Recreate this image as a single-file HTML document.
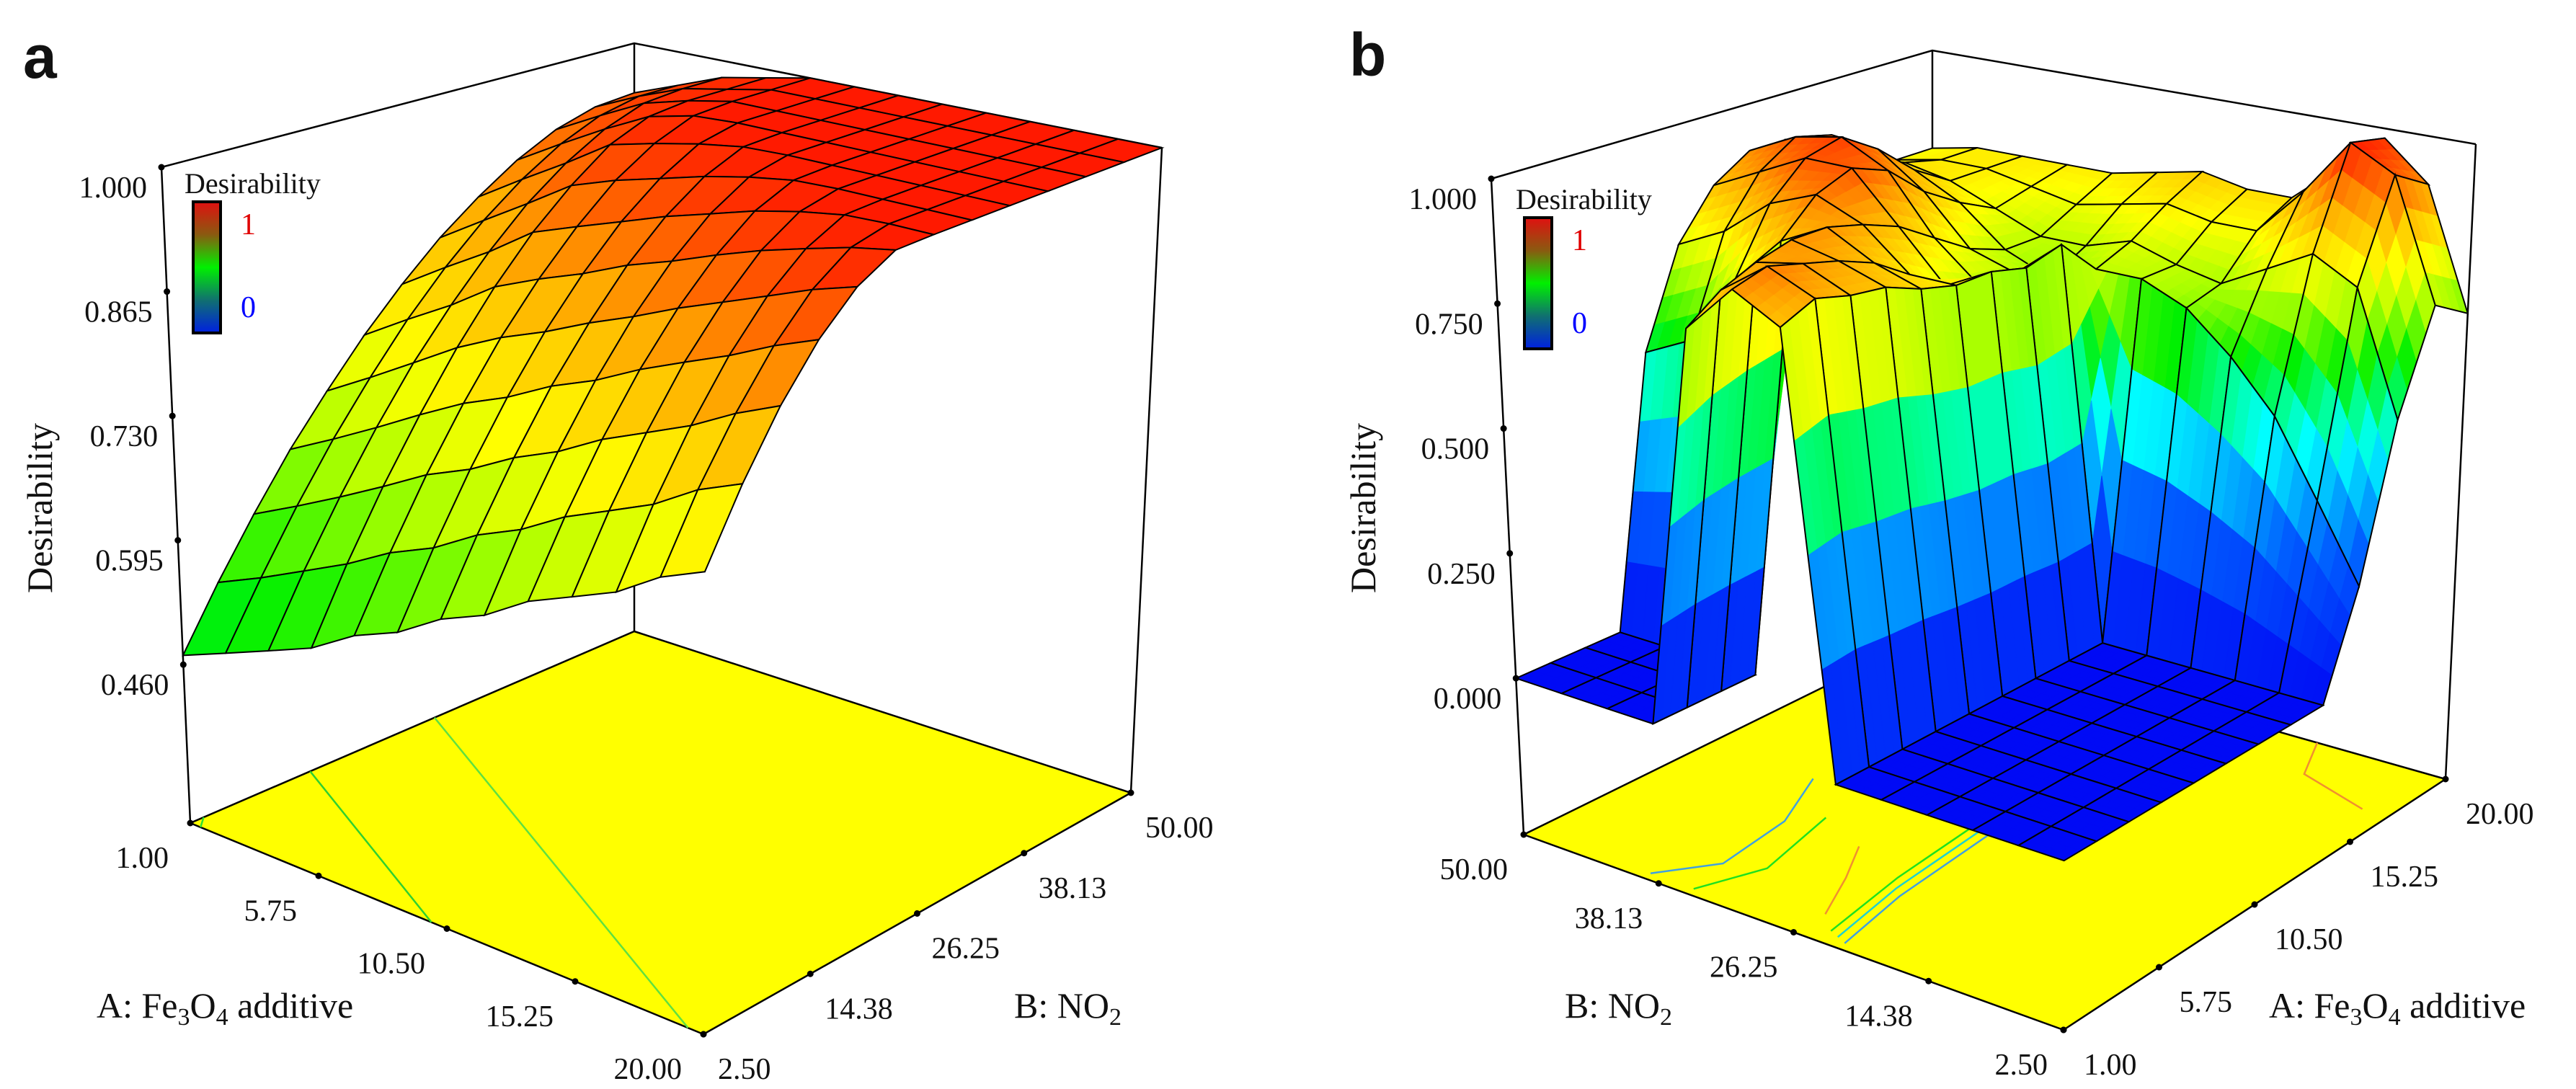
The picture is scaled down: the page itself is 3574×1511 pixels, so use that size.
<!DOCTYPE html>
<html><head><meta charset="utf-8"><style>
html,body{margin:0;padding:0;background:#fff;}
svg{display:block;}
text{font-family:"Liberation Serif",serif;fill:#111;}
</style></head><body>
<svg id="chart" width="3574" height="1511" viewBox="0 0 3574 1511" xmlns="http://www.w3.org/2000/svg">
<g id="panelA"></g>
<g id="panelB"></g>
<text x="32" y="108" font-size="84" style="font-family:'Liberation Sans',sans-serif;font-weight:bold">a</text>
<text x="1872" y="105" font-size="84" style="font-family:'Liberation Sans',sans-serif;font-weight:bold">b</text>
<text x="0" y="0" font-size="50" transform="translate(72,705) rotate(-90)" text-anchor="middle">Desirability</text>
<text x="0" y="0" font-size="50" transform="translate(1908,705) rotate(-90)" text-anchor="middle">Desirability</text>
<text x="134" y="1412" font-size="50">A: Fe<tspan font-size="34" dy="10">3</tspan><tspan dy="-10">O</tspan><tspan font-size="34" dy="10">4</tspan><tspan dy="-10"> additive</tspan></text>
<text x="1407" y="1412" font-size="50">B: NO<tspan font-size="34" dy="10">2</tspan></text>
<text x="2171" y="1412" font-size="50">B: NO<tspan font-size="34" dy="10">2</tspan></text>
<text x="3148" y="1412" font-size="50">A: Fe<tspan font-size="34" dy="10">3</tspan><tspan dy="-10">O</tspan><tspan font-size="34" dy="10">4</tspan><tspan dy="-10"> additive</tspan></text>
</svg>
<script>
// ---------- data ----------
const aTicksA = ["1.00","5.75","10.50","15.25","20.00"];
const bTicksB = ["2.50","14.38","26.25","38.13","50.00"];
const zTicksPanelA = [0.460,0.595,0.730,0.865,1.000];
const zTicksPanelB = [0.000,0.250,0.500,0.750,1.000];
// panel a desirability grid: rows A = 1..20 (13 levels), columns B = 2.5..50 (13 levels)
const surfA0 = [.47,.534,.594,.651,.702,.751,.795,.835,.869,.899,.922,.936,.94];
const surfA1 = [.49,.556,.619,.678,.732,.783,.828,.868,.902,.930,.950,.96,.96];
const surfA2 = [.51,.580,.645,.706,.763,.813,.859,.900,.933,.959,.976,.98,.98];
const surfA3 = [.53,.604,.672,.735,.794,.847,.894,.933,.966,.985,.99,.99,.99];
const surfA4 = [.56,.632,.700,.762,.819,.869,.913,.951,.979,.997,1,1,1];
const surfA5 = [.58,.653,.721,.783,.839,.888,.931,.965,.990,1,1,1,1];
const surfA6 = [.61,.682,.748,.809,.862,.910,.949,.979,.998,1,1,1,1];
const surfA7 = [.63,.703,.769,.829,.882,.927,.964,.990,1,1,1,1,1];
const surfA8 = [.66,.731,.796,.854,.904,.946,.979,.998,1,1,1,1,1];
const surfA9 = [.68,.752,.817,.875,.923,.963,.990,1,1,1,1,1,1];
const surfA10 = [.70,.773,.838,.895,.942,.977,.998,1,1,1,1,1,1];
const surfA11 = [.73,.802,.864,.918,.961,.990,1,1,1,1,1,1,1];
const surfA12 = [.75,.822,.885,.937,.976,.999,1,1,1,1,1,1,1];
// panel b desirability grid: rows A = 1..20, columns B = 2.5..50
const surfB0 = [0,0,0,0,0,0,.85,.90,.80,0,0,0,0];
const surfB1 = [0,0,0,0,0,0,.88,.92,.85,0,0,0,0];
const surfB2 = [0,0,0,0,0,0,.86,.90,.88,0,0,0,0];
const surfB3 = [0,0,0,0,0,0,.85,.88,.90,0,0,0,0];
const surfB4 = [0,0,0,0,0,0,.82,.85,.90,.85,.75,.60,.55];
const surfB5 = [0,0,0,0,0,0,.80,.80,.88,.92,.88,.80,.75];
const surfB6 = [0,0,0,0,0,0,.80,.75,.85,.95,.95,.90,.85];
const surfB7 = [0,0,0,0,0,0,.78,.72,.80,.92,.97,.95,.90];
const surfB8 = [0,0,0,0,0,0,.80,.72,.75,.85,.92,.93,.90];
const surfB9 = [.20,.35,.50,.60,.68,.72,.72,.68,.72,.80,.85,.85,.82];
const surfB10 = [.50,.75,.80,.75,.70,.72,.75,.72,.72,.76,.80,.82,.80];
const surfB11 = [.70,.95,1.0,.88,.78,.78,.80,.78,.76,.78,.80,.80,.78];
const surfB12 = [.65,.90,.98,.90,.82,.82,.84,.82,.80,.80,.80,.80,.78];

const gridA=[surfA0,surfA1,surfA2,surfA3,surfA4,surfA5,surfA6,surfA7,surfA8,surfA9,surfA10,surfA11,surfA12];
const gridB=[surfB0,surfB1,surfB2,surfB3,surfB4,surfB5,surfB6,surfB7,surfB8,surfB9,surfB10,surfB11,surfB12];

const NS='http://www.w3.org/2000/svg';
function mk(parent,tag,attrs,txt){const e=document.createElementNS(NS,tag);for(const k in attrs)e.setAttribute(k,attrs[k]);if(txt!==undefined)e.textContent=txt;parent.appendChild(e);return e;}
function makeProj(F,V,zf,zt){return function(u,v,z){const h=(z-zf)/(zt-zf);
 const w=[(1-u)*(1-v),u*(1-v),(1-u)*v,u*v];const ks=['u0v0','u1v0','u0v1','u1v1'];
 let fx=0,fy=0,vx=0,vy=0;ks.forEach((k,n)=>{fx+=F[k][0]*w[n];fy+=F[k][1]*w[n];vx+=V[k][0]*w[n];vy+=V[k][1]*w[n];});
 return [fx+h*vx,fy+h*vy];};}
const stops=[[0,[0,10,245]],[0.25,[0,90,255]],[0.35,[0,170,255]],[0.45,[0,255,255]],[0.52,[0,255,150]],[0.6,[0,240,0]],[0.7,[170,255,0]],[0.78,[255,255,0]],[0.88,[255,170,0]],[1,[255,25,0]]];
function cmap(t){t=Math.max(0,Math.min(1,t));for(let k=1;k<stops.length;k++){if(t<=stops[k][0]){const a=stops[k-1],b=stops[k];const f=(t-a[0])/(b[0]-a[0]);
 return 'rgb('+[0,1,2].map(c=>Math.round(a[1][c]+(b[1][c]-a[1][c])*f)).join(',')+')';}}return 'rgb(255,25,0)';}
function pts(a){return a.map(p=>p[0].toFixed(1)+','+p[1].toFixed(1)).join(' ');}

function drawPanel(g,cfg){
 const P=cfg.proj;
 const fl=[P(0,0,cfg.zf),P(1,0,cfg.zf),P(1,1,cfg.zf),P(0,1,cfg.zf)];
 const floor=mk(g,'polygon',{points:pts(fl),fill:'#ffff00',stroke:'#000','stroke-width':2.5});
 
 
 cfg.contours.forEach(c=>{const l=mk(g,'polyline',{points:pts(c.p.map(q=>P(q[0],q[1],cfg.zf))),fill:'none',stroke:c.col,'stroke-width':2.5});
  
  });
 const corners=[[0,0],[1,0],[1,1],[0,1]];
 corners.filter(c=>!(c[0]===cfg.front[0]&&c[1]===cfg.front[1])).forEach(c=>{
  const p1=P(c[0],c[1],cfg.zf),p2=P(c[0],c[1],cfg.zt);
  const l=mk(g,'line',{x1:p1[0],y1:p1[1],x2:p2[0],y2:p2[1],stroke:'#000','stroke-width':2.5});
  
  });
 const top=[cfg.topL,cfg.backCorner,cfg.topR].map(c=>P(c[0],c[1],cfg.zt));
 const tl=mk(g,'polyline',{points:pts(top),fill:'none',stroke:'#000','stroke-width':2.5});
 
 
 const grid=cfg.grid,N=grid.length-1,M=grid[0].length-1,S=cfg.sub;
 const cells=[];
 for(let i=0;i<N;i++)for(let j=0;j<M;j++)cells.push([i,j]);
 cells.sort((a,b)=>cfg.key(b[0]+.5,b[1]+.5,N,M)-cfg.key(a[0]+.5,a[1]+.5,N,M));
 const sg=mk(g,'g',{});
 
 
 cells.forEach(([i,j])=>{
  const z00=grid[i][j],z10=grid[i+1][j],z01=grid[i][j+1],z11=grid[i+1][j+1];
  const zz=(s,t)=>z00*(1-s)*(1-t)+z10*s*(1-t)+z01*(1-s)*t+z11*s*t;
  const subs=[];for(let a=0;a<S;a++)for(let b=0;b<S;b++)subs.push([a,b]);
  subs.sort((p,q)=>cfg.key(q[0],q[1],S,S)-cfg.key(p[0],p[1],S,S));
  subs.forEach(([a,b])=>{
   const s0=a/S,s1=(a+1)/S,t0=b/S,t1=(b+1)/S;
   const q=[[s0,t0],[s1,t0],[s1,t1],[s0,t1]];
   const zs=q.map(r=>zz(r[0],r[1]));const zm=zs.reduce((x,y)=>x+y)/4;
   const col=cmap(cfg.cnorm(zm));
   mk(sg,'polygon',{points:pts(q.map((r,k)=>P((i+r[0])/N,(j+r[1])/M,zs[k]))),fill:col,stroke:col,'stroke-width':1});
  });
  const cp=[[i,j],[i+1,j],[i+1,j+1],[i,j+1]].map(c=>P(c[0]/N,c[1]/M,grid[c[0]][c[1]]));
  mk(sg,'polygon',{points:pts(cp),fill:'none',stroke:'#000','stroke-width':2});
 });
}

function zAxis(g,P,u,v,ticks){
 const ax=mk(g,'g',{});
 
 
 ticks.forEach(t=>{const p=P(u,v,t);
  mk(ax,'circle',{cx:p[0],cy:p[1],r:4.5,fill:'#000'});
  const tx=mk(ax,'text',{x:p[0]-20,y:p[1]+42,'font-size':42,'text-anchor':'end'},t.toFixed(3));
  
  });
}
function legend(g,x,y){
 const lg=mk(g,'g',{});
 
 
 mk(lg,'text',{x:x-12,y:y-12,'font-size':40},'Desirability');
 const id='lgGrad'+x;
 const d=mk(lg,'defs',{});const lgd=mk(d,'linearGradient',{id:id,x1:0,y1:0,x2:0,y2:1});
 [['0','#e01010'],['0.25','#8a5a10'],['0.5','#00f000'],['0.75','#107070'],['1','#0020e0']].forEach(s=>mk(lgd,'stop',{offset:s[0],'stop-color':s[1]}));
 mk(lg,'rect',{x:x,y:y,width:38,height:182,fill:'url(#'+id+')',stroke:'#000','stroke-width':4});
 mk(lg,'text',{x:x+66,y:y+45,'font-size':42,style:'fill:#e00000'},'1');
 mk(lg,'text',{x:x+66,y:y+160,'font-size':42,style:'fill:#0000ff'},'0');
}

// ---------- panel a ----------
(function(){
 const g=document.getElementById('panelA');
 const zf=0.288,zt=1.0;
 const P=makeProj({u0v0:[264,1142],u1v0:[976,1435],u0v1:[880,876],u1v1:[1569,1100]},
                  {u0v0:[-40,-910],u1v0:[3,-989],u0v1:[0,-816],u1v1:[43,-895]},zf,zt);
 drawPanel(g,{proj:P,zf:zf,zt:zt,grid:gridA,sub:1,front:[1,0],backCorner:[0,1],topL:[0,0],topR:[1,1],
  key:(i,j,N,M)=>(N-i)/N+j/M, cnorm:z=>0.57+0.43*Math.pow(Math.max(0,(z-0.46)/0.54),1.25),
  contours:[{col:'#30e030',p:[[0.02,0],[0,0.03]]},{col:'#30d030',p:[[0.47,0],[0,0.27]]},{col:'#60e040',p:[[0.97,0],[0,0.55]]}]});
 zAxis(g,P,0,0,zTicksPanelA);
 aTicksA.forEach((l,k)=>{const p=P(k/4,0,zf);mk(g,'circle',{cx:p[0],cy:p[1],r:4.5,fill:'#000'});
  const t=mk(g,'text',{x:p[0]-30,y:p[1]+62,'font-size':42,'text-anchor':'end'},l);
  
  });
 bTicksB.forEach((l,k)=>{const p=P(1,k/4,zf);mk(g,'circle',{cx:p[0],cy:p[1],r:4.5,fill:'#000'});
  const t=mk(g,'text',{x:p[0]+20,y:p[1]+62,'font-size':42},l);
  
  });
 legend(g,268,280);
})();

// ---------- panel b ----------
(function(){
 const g=document.getElementById('panelB');
 const zf=-0.313,zt=1.0;
 const P=makeProj({u0v0:[2863,1429],u1v0:[3393,1081],u0v1:[2114,1158],u1v1:[2681,879]},
                  {u0v0:[3,-985],u1v0:[42,-881],u0v1:[-45,-910],u1v1:[0,-809]},zf,zt);
 drawPanel(g,{proj:P,zf:zf,zt:zt,grid:gridB,sub:4,front:[0,0],backCorner:[1,1],topL:[0,1],topR:[1,0],
  key:(i,j,N,M)=>i/N+j/M, cnorm:z=>z,
  contours:[{col:'#40a0e0',p:[[0.02,0.42],[0.2,0.45],[0.45,0.47],[0.7,0.46],[0.9,0.42]]},
            {col:'#20d0d0',p:[[0.03,0.44],[0.22,0.47],[0.47,0.49],[0.72,0.48],[0.91,0.44]]},
            {col:'#20e020',p:[[0.04,0.46],[0.25,0.49],[0.5,0.51],[0.75,0.5],[0.92,0.46]]},
            {col:'#f09030',p:[[0.08,0.5],[0.2,0.55],[0.3,0.6]]},
            {col:'#40a0e0',p:[[0.02,0.78],[0.12,0.72],[0.3,0.74],[0.45,0.8]]},
            {col:'#20e020',p:[[0.02,0.7],[0.15,0.66],[0.35,0.7]]},
            {col:'#f09030',p:[[0.85,0.05],[0.9,0.2],[1,0.25]]}]});
 zAxis(g,P,0,1,zTicksPanelB);
 bTicksB.forEach((l,k)=>{const p=P(0,k/4,zf);mk(g,'circle',{cx:p[0],cy:p[1],r:4.5,fill:'#000'});
  const t=mk(g,'text',{x:p[0]-22,y:p[1]+62,'font-size':42,'text-anchor':'end'},l);
  
  });
 aTicksA.forEach((l,k)=>{const p=P(k/4,0,zf);mk(g,'circle',{cx:p[0],cy:p[1],r:4.5,fill:'#000'});
  const t=mk(g,'text',{x:p[0]+28,y:p[1]+62,'font-size':42},l);
  
  });
 legend(g,2115,302);
})();
</script>
</body></html>
